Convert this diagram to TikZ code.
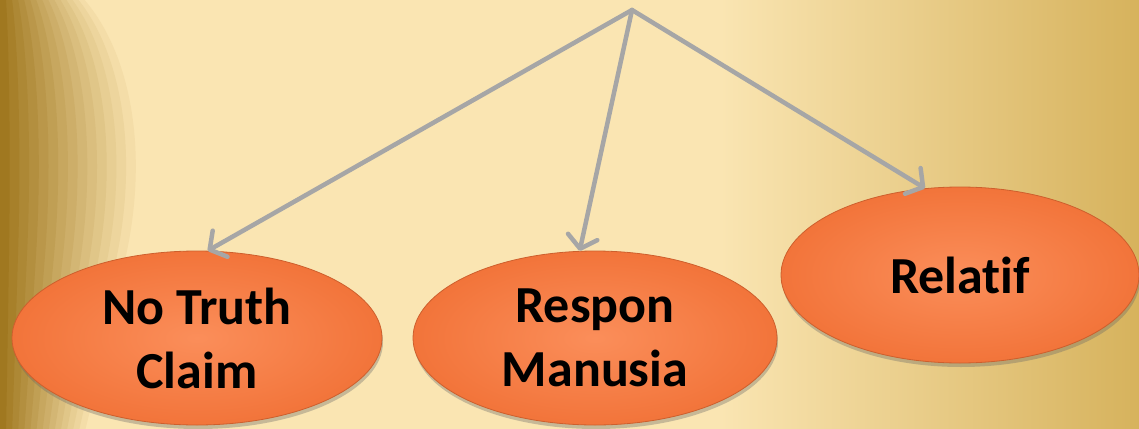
\documentclass[tikz,border=0pt]{standalone}
\usepackage{fontspec}
\setmainfont{Carlito}[Ligatures=NoCommon]
\usepackage{tikz}
\usetikzlibrary{shapes.geometric,arrows.meta,shadows}

\definecolor{cream}{RGB}{250,229,178}
\definecolor{goldleft}{RGB}{160,120,32}
\definecolor{goldright}{RGB}{214,178,92}
\definecolor{arrowgray}{RGB}{166,166,166}
\definecolor{ovaledge}{RGB}{205,95,45}
\definecolor{ovalin}{RGB}{251,142,90}
\definecolor{ovalout}{RGB}{242,116,58}

\begin{document}
\begin{tikzpicture}[x=1pt,y=1pt,yscale=-1,
  oval/.style={ellipse, draw=ovaledge, line width=0.8pt, inner color=ovalin, outer color=ovalout,
    inner sep=0pt, align=center, font=\fontsize{52}{64}\selectfont\bfseries,
    drop shadow={shadow xshift=1pt, shadow yshift=-4pt, opacity=0.35, fill=black!60}},
  link/.style={draw=arrowgray, line width=4.5pt, line cap=round,
    -{Straight Barb[length=12pt,width=30pt,round]}}]

%Background
\useasboundingbox (0,0) rectangle (1139,428);
\fill[cream] (-3,-3) rectangle (1142,431);
\shade[left color=cream, right color=goldright] (720,-3) rectangle (1142,431);
\foreach \k in {1,...,14}{
  \pgfmathsetmacro\w{(15-\k)/14}
  \pgfmathsetmacro\p{\k*100/14}
  \fill[goldleft!\p!cream] (-3,-3) -- ({82*\w},-3) .. controls ({130*\w},50) and ({150*\w},150) .. ({125*\w},260)
    .. controls ({110*\w},330) and ({95*\w},390) .. ({85*\w},431) -- (-3,431) -- cycle;
}

%Ovals
\node[oval, minimum width=370pt, minimum height=174pt] (notruth) at (197,338) {No Truth\\Claim};
\node[oval, minimum width=364pt, minimum height=174pt] (respon) at (595,338) {Respon\\Manusia};
\node[oval, minimum width=358pt, minimum height=176pt] (relatif) at (960,275) {Relatif};

%Arrows
\coordinate (src) at (632,10);
\draw[link] (src) -- (notruth.83);
\draw[link] (src) -- (respon.100);
\draw[link] (src) -- (relatif.112);

\end{tikzpicture}
\end{document}
